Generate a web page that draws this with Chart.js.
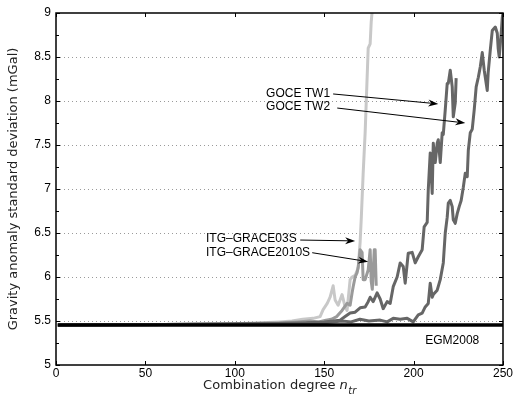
<!DOCTYPE html>
<html>
<head>
<meta charset="utf-8">
<script src="https://cdn.jsdelivr.net/npm/chart.js@4.4.1/dist/chart.umd.min.js"></script>
<style>
  html, body { margin: 0; padding: 0; background: #fff; }
  #wrap { width: 518px; height: 401px; }
</style>
</head>
<body>
<div id="wrap"><canvas id="chart" width="518" height="401"></canvas></div>
<script>
// axis ticks
const xTickValues = [0, 50, 100, 150, 200, 250];
const yTickValues = [5, 5.5, 6, 6.5, 7, 7.5, 8, 8.5, 9];

// EGM2008 reference level
const egmX = [1, 250];
const egmY = [5.455, 5.455];

// ITG-GRACE03S
const grace03X = [1, 60, 100, 115, 125, 132, 138, 143.8, 147.7, 149.4, 151.7, 153.3, 155, 156.1, 157.8, 160, 161.7, 162.8, 164.5, 165.6, 167.3, 169, 170.1, 170.7, 171.8, 172.9, 174.6, 175.7, 176.3, 177.4];
const grace03Y = [5.455, 5.46, 5.47, 5.48, 5.49, 5.5, 5.52, 5.53, 5.55, 5.63, 5.7, 5.77, 5.9, 5.74, 5.68, 5.8, 5.66, 5.62, 5.97, 6.0, 6.02, 6.1, 6.4, 6.65, 7.18, 7.64, 8.6, 8.65, 8.9, 9.15];

// ITG-GRACE2010S
const grace10X = [1, 60, 100, 115, 125, 135, 142, 147, 151, 154, 157, 160, 162.8, 164.5, 165.6, 166.2, 167.3, 168.4, 169, 170.1, 171.2, 171.8, 172.9, 174.6, 175.7, 176.3, 176.9, 178, 178.5, 179.1];
const grace10Y = [5.455, 5.46, 5.465, 5.475, 5.48, 5.49, 5.5, 5.49, 5.51, 5.52, 5.55, 5.62, 5.7, 5.68, 5.82, 5.89, 6.0, 6.05, 6.11, 6.31, 6.28, 5.97, 5.97, 6.08, 6.31, 5.95, 5.86, 6.31, 6.31, 5.9];

// GOCE TW1
const tw1X = [1, 60, 100, 120, 140, 150, 155, 158.9, 161.7, 164.5, 167.3, 170.1, 172.9, 174.6, 175.7, 177.4, 179.6, 181.3, 183, 185.2, 186.9, 188.6, 190.8, 192.5, 194.2, 195.3, 197, 199.2, 200.9, 202.6, 204.8, 205.9, 207.6, 208.2, 209.3, 210.4, 211, 212.1, 213.2, 213.8, 214.9, 216, 216.6, 217.7, 218.8, 219.4, 220.5, 221.6, 222.2, 223.3, 223.8];
const tw1Y = [5.455, 5.46, 5.465, 5.47, 5.48, 5.49, 5.5, 5.51, 5.55, 5.59, 5.6, 5.65, 5.66, 5.72, 5.77, 5.72, 5.82, 5.75, 5.64, 5.72, 5.7, 5.89, 6.0, 6.16, 6.12, 5.93, 6.27, 6.28, 6.16, 6.23, 6.31, 6.57, 6.62, 6.99, 7.41, 6.95, 7.52, 7.3, 7.52, 7.56, 7.3, 7.64, 7.62, 7.9, 8.2, 8.2, 8.35, 8.16, 7.82, 7.98, 8.26];

// GOCE TW2
const tw2X = [1, 60, 100, 130, 150, 160, 165, 170, 175, 181.3, 185.2, 188.6, 192.5, 196.4, 199.8, 202.6, 204.8, 206.5, 208.2, 209.3, 210.4, 211, 213.2, 214.9, 216.6, 217.7, 218.8, 219.4, 220.5, 221.6, 222.2, 223.3, 224.4, 225.5, 226.6, 227.8, 228.9, 230, 230.6, 231.7, 232.8, 233.9, 235, 236.2, 237.3, 238.4, 239.5, 241.2, 241.7, 242.9, 244, 245.7, 246.8, 247.3, 247.9, 249, 249.6, 250];
const tw2Y = [5.455, 5.46, 5.465, 5.47, 5.48, 5.5, 5.49, 5.52, 5.5, 5.51, 5.49, 5.53, 5.52, 5.53, 5.49, 5.57, 5.59, 5.66, 5.7, 5.93, 5.77, 5.8, 5.85, 5.97, 6.16, 6.5, 6.68, 6.84, 6.87, 6.8, 6.65, 6.61, 6.72, 6.8, 6.87, 7.02, 7.18, 7.14, 7.44, 7.64, 7.68, 7.9, 8.16, 8.27, 8.39, 8.55, 8.35, 8.12, 8.32, 8.58, 8.8, 8.84, 8.77, 8.6, 8.5, 8.77, 8.95, 9.0];

// labels with arrows (data coordinates)
const notes = [
  { text: 'GOCE TW1', x: 153.3, y: 8.08, align: 'right', from: [155, 8.08], to: [213.8, 7.967] },
  { text: 'GOCE TW2', x: 153.3, y: 7.933, align: 'right', from: [157.3, 7.92], to: [228.9, 7.75] },
  { text: 'ITG\u2013GRACE03S', x: 83.9, y: 6.435, align: 'left', from: [136.6, 6.42], to: [167.3, 6.41] },
  { text: 'ITG\u2013GRACE2010S', x: 83.9, y: 6.276, align: 'left', from: [143.3, 6.276], to: [174.6, 6.174] },
  { text: 'EGM2008', x: 206.5, y: 5.277, align: 'left' }
];

const tickFont = '12px "Liberation Sans", Arial, sans-serif';
const titleFont = '13px "DejaVu Sans", sans-serif';

function pts(xs, ys) {
  return xs.map((x, i) => ({ x, y: ys[i] }));
}

function series(label, xs, ys, color, width) {
  return {
    label,
    data: pts(xs, ys),
    borderColor: color,
    backgroundColor: color,
    borderWidth: width,
    pointRadius: 0,
    showLine: true,
    tension: 0,
    borderJoinStyle: 'round'
  };
}

function drawArrow(ctx, x1, y1, x2, y2) {
  const ang = Math.atan2(y2 - y1, x2 - x1);
  const c = Math.cos(ang), s = Math.sin(ang);
  const len = 10, half = 3.5;
  ctx.beginPath();
  ctx.moveTo(x1, y1);
  ctx.lineTo(x2 - len * 0.7 * c, y2 - len * 0.7 * s);
  ctx.stroke();
  ctx.beginPath();
  ctx.moveTo(x2, y2);
  ctx.lineTo(x2 - len * c + half * s, y2 - len * s - half * c);
  ctx.lineTo(x2 - len * 0.7 * c, y2 - len * 0.7 * s);
  ctx.lineTo(x2 - len * c - half * s, y2 - len * s + half * c);
  ctx.closePath();
  ctx.fill();
}

// MATLAB-like box, inward ticks, dotted grid, notes and titles
const matlabAxes = {
  id: 'matlabAxes',
  beforeDatasetsDraw(chart) {
    const { ctx, chartArea: a, scales: { y } } = chart;
    ctx.save();
    ctx.strokeStyle = '#9a9a9a';
    ctx.lineWidth = 1;
    ctx.setLineDash([1, 3]);
    yTickValues.slice(1, -1).forEach(v => {
      const py = Math.round(y.getPixelForValue(v)) + 0.5;
      ctx.beginPath();
      ctx.moveTo(a.left, py);
      ctx.lineTo(a.right, py);
      ctx.stroke();
    });
    ctx.restore();
  },
  afterDatasetsDraw(chart) {
    const { ctx, chartArea: a, scales: { x, y } } = chart;
    ctx.save();
    ctx.strokeStyle = '#000';
    ctx.fillStyle = '#000';
    ctx.lineWidth = 1;

    // ticks
    ctx.beginPath();
    xTickValues.forEach(v => {
      const px = Math.round(x.getPixelForValue(v)) + 0.5;
      ctx.moveTo(px, a.bottom); ctx.lineTo(px, a.bottom - 4);
      ctx.moveTo(px, a.top); ctx.lineTo(px, a.top + 4);
    });
    for (let v = 5; v <= 9.001; v += 0.25) {
      const py = Math.round(y.getPixelForValue(v)) + 0.5;
      const major = Math.abs(v * 2 - Math.round(v * 2)) < 1e-6;
      const len = major ? 4 : 3;
      ctx.moveTo(a.left, py); ctx.lineTo(a.left + len, py);
      ctx.moveTo(a.right, py); ctx.lineTo(a.right - len, py);
    }
    ctx.stroke();

    // box
    ctx.lineWidth = 1.5;
    ctx.strokeRect(a.left, a.top, a.right - a.left, a.bottom - a.top);

    // notes
    ctx.lineWidth = 1;
    ctx.font = tickFont;
    ctx.textBaseline = 'middle';
    notes.forEach(n => {
      ctx.textAlign = n.align;
      ctx.fillText(n.text, x.getPixelForValue(n.x), y.getPixelForValue(n.y));
      if (n.from) {
        drawArrow(ctx,
          x.getPixelForValue(n.from[0]), y.getPixelForValue(n.from[1]),
          x.getPixelForValue(n.to[0]), y.getPixelForValue(n.to[1]));
      }
    });

    // y title
    ctx.font = titleFont;
    ctx.fillStyle = '#222';
    ctx.textAlign = 'center';
    ctx.textBaseline = 'middle';
    ctx.save();
    ctx.translate(14, (a.top + a.bottom) / 2);
    ctx.rotate(-Math.PI / 2);
    ctx.fillText('Gravity anomaly standard deviation (mGal)', 0, 0);
    ctx.restore();

    // x title with italic n and subscript tr
    const main = 'Combination degree ';
    ctx.font = titleFont;
    const w1 = ctx.measureText(main).width;
    ctx.font = 'italic ' + titleFont;
    const w2 = ctx.measureText('n').width;
    ctx.font = 'italic 10px "DejaVu Sans", sans-serif';
    const w3 = ctx.measureText('tr').width;
    let sx = (a.left + a.right) / 2 - (w1 + w2 + w3) / 2;
    const by = 389;
    ctx.textAlign = 'left';
    ctx.textBaseline = 'alphabetic';
    ctx.font = titleFont;
    ctx.fillText(main, sx, by);
    sx += w1;
    ctx.font = 'italic ' + titleFont;
    ctx.fillText('n', sx, by);
    sx += w2 + 0.5;
    ctx.font = 'italic 10px "DejaVu Sans", sans-serif';
    ctx.fillText('tr', sx, by + 5);
    ctx.restore();
  }
};

const chart = new Chart(document.getElementById('chart').getContext('2d'), {
  type: 'scatter',
  data: {
    datasets: [
      series('EGM2008', egmX, egmY, '#000000', 3.5),
      series('GOCE TW1', tw1X, tw1Y, '#666666', 3),
      series('GOCE TW2', tw2X, tw2Y, '#666666', 3),
      series('ITG-GRACE2010S', grace10X, grace10Y, '#9a9a9a', 3),
      series('ITG-GRACE03S', grace03X, grace03Y, '#c8c8c8', 3)
    ]
  },
  options: {
    responsive: false,
    animation: false,
    events: [],
    layout: { padding: { top: 13, right: 15, left: 0, bottom: 0 } },
    plugins: {
      legend: { display: false },
      tooltip: { enabled: false }
    },
    scales: {
      x: {
        type: 'linear',
        min: 0,
        max: 250,
        afterBuildTicks: s => { s.ticks = xTickValues.map(v => ({ value: v })); },
        afterFit: s => { s.height = 36; },
        grid: { display: false, drawTicks: false },
        border: { display: false },
        ticks: { color: '#000', font: { family: '"Liberation Sans", Arial, sans-serif', size: 12 }, padding: 1, maxRotation: 0, callback: v => String(v) }
      },
      y: {
        type: 'linear',
        min: 5,
        max: 9,
        afterBuildTicks: s => { s.ticks = yTickValues.map(v => ({ value: v })); },
        afterFit: s => { s.width = 56; },
        grid: { display: false, drawTicks: false },
        border: { display: false },
        ticks: { color: '#000', font: { family: '"Liberation Sans", Arial, sans-serif', size: 12 }, padding: 5, callback: v => String(v) }
      }
    }
  },
  plugins: [matlabAxes]
});
</script>
</body>
</html>
